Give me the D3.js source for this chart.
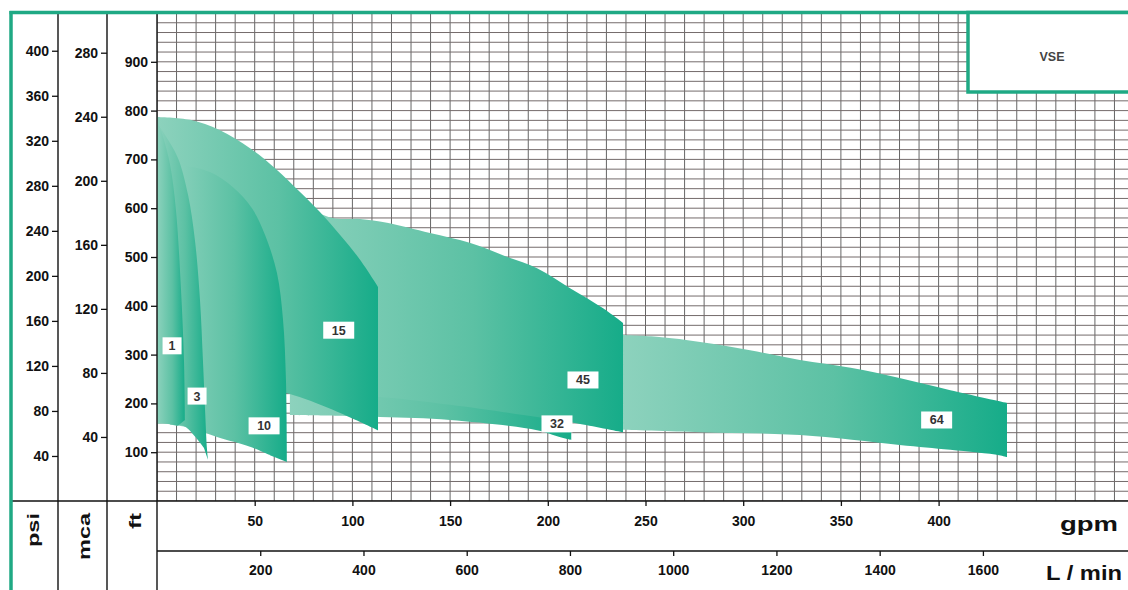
<!DOCTYPE html>
<html><head><meta charset="utf-8">
<script src="https://cdn.jsdelivr.net/npm/d3@7"></script>
<style>
body{margin:0;background:#fff}
svg{display:block}
text{font-family:"Liberation Sans",Arial,Helvetica,sans-serif}
</style>
</head><body>
<svg id="c" width="1128" height="590"></svg>
<script>
// ---------- data ----------
const gpmTicks  = [50,100,150,200,250,300,350,400];
const lminTicks = [200,400,600,800,1000,1200,1400,1600];
const ftTicks   = [100,200,300,400,500,600,700,800,900];
const mcaTicks  = [40,80,120,160,200,240,280];
const psiTicks  = [40,80,120,160,200,240,280,320,360,400];
const models    = ["64","32","45","15","10","3","1"];   // back to front

// outlines: [gpm, ft]; top edge left->right (down the right side), bottom edge right->left
const top64 = [[238.5,340],[257,336],[278,326],[303.5,309],[329,289],[355,273],[380,252],[406,227],[435,201]];
const bot64 = [[435,90],[431,94],[406,105],[380,115],[329,135],[278,141],[238.5,146]];
const top32 = [[68,432],[150,350],[196,248],[212,207]];
const bot32 = [[212,125],[206,131],[194.5,145],[150,166],[114,172],[68,176]];
const top45 = [[68,617],[90,580],[104,578],[117.7,570],[139.7,549],[160,529],[178,502],[194.5,477],[211.4,436],[228.3,395],[238.5,365]];
const bot45 = [[238.5,141],[216.5,158],[194.5,172],[150,197],[114,213],[68,221]];
const top15 = [[0,787],[17,781],[32,760],[47.6,723],[60.4,682],[73.2,633],[83.4,592],[93.7,545],[104,494],[113.1,439]];
const bot15 = [[113.1,145],[66.5,221],[22,238],[0,207]];
const top10 = [[6.7,678],[13.3,686],[27.1,674],[38.9,643],[48.6,600],[55.3,545],[61.4,467],[64.5,371],[66,248],[66.5,80]];
const bot10 = [[57.8,94],[47.6,111],[30.7,131],[16.9,150],[6.7,156]];
const top3  = [[0,775],[4.1,750],[10.7,703],[15.9,627],[19.4,535],[22,412],[23.5,289],[24.6,186],[25.6,105],[26.1,84]];
const bot3  = [[24,109],[18.4,137],[13.3,154],[0,158]];
const top1  = [[0,781],[3.1,746],[6.7,689],[9.7,596],[12.3,432],[13.8,289],[14.3,166]];
const bot1  = [[10.7,154],[0,162]];
const tops  = [top64,top32,top45,top15,top10,top3,top1];
const bots  = [bot64,bot32,bot45,bot15,bot10,bot3,bot1];
const labelGpm = [399,204.7,218,93,54.8,20.5,7.7];
const labelFt  = [166,158,248,350,154,215,318];
const legendText = "VSE";

// ---------- scales ----------
const W=1128, H=590;
const X0=157, YB=501, YT=13;
const x   = d3.scaleLinear().domain([0,500]).range([X0, X0+977]);
const xL  = d3.scaleLinear().domain([0,500*3.78541]).range([X0, X0+977]);
const y   = d3.scaleLinear().domain([0,1000]).range([YB, YT]);
const yM  = d3.scaleLinear().domain([0,1000*0.3048]).range([YB, YT]);
const yP  = d3.scaleLinear().domain([0,1000/2.30666]).range([YB, YT]);

const teal="#1fa984";
const svg=d3.select("#c");
const defs=svg.append("defs");
defs.append("clipPath").attr("id","plot").append("rect")
  .attr("x",X0).attr("y",YT).attr("width",W-X0).attr("height",YB-YT);
models.forEach((m,i)=>{
  const g=defs.append("linearGradient").attr("id","g"+i)
    .attr("x1",0).attr("x2",1).attr("y1",0).attr("y2",0);
  g.append("stop").attr("offset",0).attr("stop-color","#8dd2bd");
  g.append("stop").attr("offset",0.55).attr("stop-color","#5cc1a4");
  g.append("stop").attr("offset",1).attr("stop-color","#16ac89");
});

// ---------- grid ----------
const grid=svg.append("g").attr("clip-path","url(#plot)");
grid.selectAll("line.v").data(d3.range(0,501,10)).join("line")
  .attr("x1",d=>x(d)).attr("x2",d=>x(d)).attr("y1",YT).attr("y2",YB)
  .attr("stroke","#666").attr("stroke-width",1);
grid.selectAll("line.h").data(d3.range(0,1001,20)).join("line")
  .attr("x1",X0).attr("x2",W).attr("y1",d=>y(d)).attr("y2",d=>y(d))
  .attr("stroke","#746b6b").attr("stroke-width",1);

// ---------- regions ----------
const line=d3.line().x(d=>x(d[0])).y(d=>y(d[1])).curve(d3.curveCatmullRom.alpha(0.5));
const regs=svg.append("g").attr("clip-path","url(#plot)");
models.forEach((m,i)=>{
  const p=line(tops[i])+line(bots[i]).replace(/^M/,"L")+"Z";
  regs.append("path").attr("d",p).attr("fill","url(#g"+i+")");
});

// ---------- labels ----------
models.forEach((m,i)=>{
  const cx=x(labelGpm[i]), cy=y(labelFt[i]);
  const w=m.length>1?31:19;
  svg.append("rect").attr("x",cx-w/2).attr("y",cy-8.5).attr("width",w).attr("height",17).attr("fill","#fff");
  svg.append("text").attr("x",cx).attr("y",cy+4.5).attr("text-anchor","middle")
    .attr("font-size",12.5).attr("font-weight","bold").attr("fill","#333").text(m);
});

// ---------- axes ----------
function style(g){
  g.select(".domain").remove();
  g.selectAll("line").attr("stroke","#111").attr("stroke-width",1.3);
  g.selectAll("text").attr("font-size",14).attr("font-weight","bold").attr("fill","#111");
}
const fmt=d3.format("d");
svg.append("g").attr("transform",`translate(58,0)`).call(d3.axisLeft(yP).tickValues(psiTicks).tickFormat(fmt).tickSize(6).tickPadding(3)).call(style);
svg.append("g").attr("transform",`translate(107,0)`).call(d3.axisLeft(yM).tickValues(mcaTicks).tickFormat(fmt).tickSize(6).tickPadding(3)).call(style);
svg.append("g").attr("transform",`translate(${X0},0)`).call(d3.axisLeft(y).tickValues(ftTicks).tickFormat(fmt).tickSize(6).tickPadding(3)).call(style);
svg.append("g").attr("transform",`translate(0,${YB})`).call(d3.axisBottom(x).tickValues(gpmTicks).tickFormat(fmt).tickSize(5).tickPadding(10)).call(style);
svg.append("g").attr("transform",`translate(0,551)`).call(d3.axisBottom(xL).tickValues(lminTicks).tickFormat(fmt).tickSize(5).tickPadding(9)).call(style);

// structural lines
const ln=(x1,y1,x2,y2,c="#111",w=1.4)=>svg.append("line").attr("x1",x1).attr("y1",y1).attr("x2",x2).attr("y2",y2).attr("stroke",c).attr("stroke-width",w);
ln(58,YT,58,H); ln(107,YT,107,H); ln(X0,YT,X0,H);
ln(11,YB,W,YB,"#111",1.6); ln(X0,551,W,551);

// unit labels
const unit=(t,xx,len)=>svg.append("text").attr("transform",`translate(${xx},513) rotate(-90)`)
  .attr("text-anchor","end").attr("font-size",17).attr("font-weight","bold").attr("fill","#111")
  .attr("textLength",len).attr("lengthAdjust","spacingAndGlyphs").text(t);
unit("psi",39,34); unit("mca",90,47); unit("ft",141,16);
svg.append("text").attr("x",1060).attr("y",531).attr("font-size",20).attr("font-weight","bold").attr("fill","#111")
  .attr("textLength",58).attr("lengthAdjust","spacingAndGlyphs").text("gpm");
svg.append("text").attr("x",1046).attr("y",580).attr("font-size",21).attr("font-weight","bold").attr("fill","#111")
  .attr("textLength",76).attr("lengthAdjust","spacingAndGlyphs").text("L / min");

// frame & legend box
ln(9.5,12.5,W,12.5,teal,3.5);
ln(11,11,11,H,teal,3.5);
svg.append("rect").attr("x",968).attr("y",12.5).attr("width",180).attr("height",79.5)
  .attr("fill","#fff").attr("stroke",teal).attr("stroke-width",3.5);
svg.append("text").attr("x",1052).attr("y",61).attr("text-anchor","middle").attr("font-size",12.5)
  .attr("font-weight","bold").attr("fill","#444").text(legendText);
</script>
</body></html>
